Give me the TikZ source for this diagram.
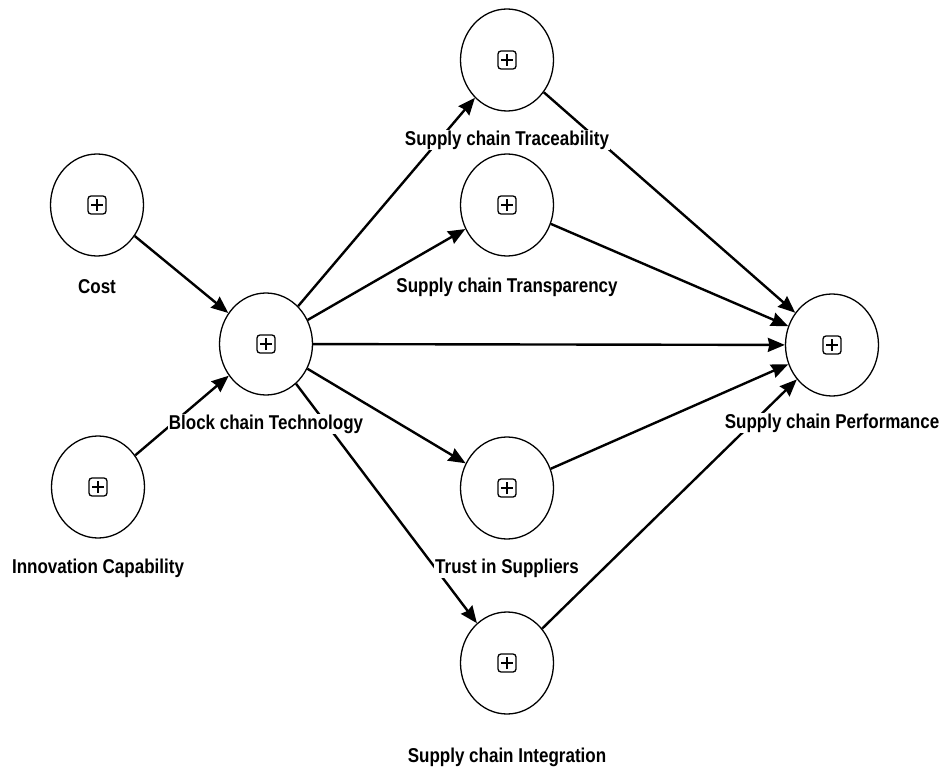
\documentclass[tikz,border=0pt]{standalone}
\usepackage{fontspec}
\setmainfont{Liberation Sans}[FakeStretch=0.85]
\usepackage{tikz}
\usetikzlibrary{arrows.meta,shapes.geometric}

\begin{document}
\begin{tikzpicture}[x=1pt, y=-1pt,
  lv/.style={draw, ellipse, line width=1.3pt, minimum width=93pt, minimum height=102pt, inner sep=0pt,
    path picture={\draw[line width=1.3pt, rounded corners=3pt] ([shift={(-9pt,-9pt)}]path picture bounding box.center) rectangle ([shift={(9pt,9pt)}]path picture bounding box.center);
      \draw[line width=1.2pt] ([shift={(-6pt,0pt)}]path picture bounding box.center) -- ([shift={(6pt,0pt)}]path picture bounding box.center)
        ([shift={(0pt,-6pt)}]path picture bounding box.center) -- ([shift={(0pt,6pt)}]path picture bounding box.center);}},
  rotulo/.style={fill=white, inner sep=1pt, font=\fontsize{20}{22}\selectfont\bfseries},
  >={Stealth[length=17pt, width=14pt, inset=1.5pt]}, every path/.style={line width=2.4pt}]
\useasboundingbox[fill=white] (0,0) rectangle (940,770);
\node[lv] (cost) at (97,205) {};
\node[lv] (inov) at (98,487) {};
\node[lv] (bct) at (266,344) {};
\node[lv] (trac) at (507,60) {};
\node[lv] (transp) at (507,205) {};
\node[lv] (trust) at (507,488) {};
\node[lv] (integ) at (507,663) {};
\node[lv] (perf) at (832,345) {};
\draw[->] (cost) -- (bct); \draw[->] (inov) -- (bct);
\draw[->] (bct) -- (trac); \draw[->] (bct) -- (transp); \draw[->] (bct) -- (perf);
\draw[->] (bct) -- (trust); \draw[->] (bct) -- (integ);
\draw[->] (trac) -- (perf); \draw[->] (transp) -- (perf); \draw[->] (trust) -- (perf); \draw[->] (integ) -- (perf);
\node[rotulo] (lcost) at (97,287) {Cost};
\node[rotulo] (linov) at (98,568) {Innovation Capability};
\node[rotulo] (lbct) at (266,424) {Block chain Technology};
\node[rotulo] (ltrac) at (507,140) {Supply chain Traceability};
\node[rotulo] (ltransp) at (507,287) {Supply chain Transparency};
\node[rotulo] (ltrust) at (507,568) {Trust in Suppliers};
\node[rotulo] (linteg) at (507,757) {Supply chain Integration};
\node[rotulo] (lperf) at (832,423) {Supply chain Performance};
\end{tikzpicture}
\end{document}
